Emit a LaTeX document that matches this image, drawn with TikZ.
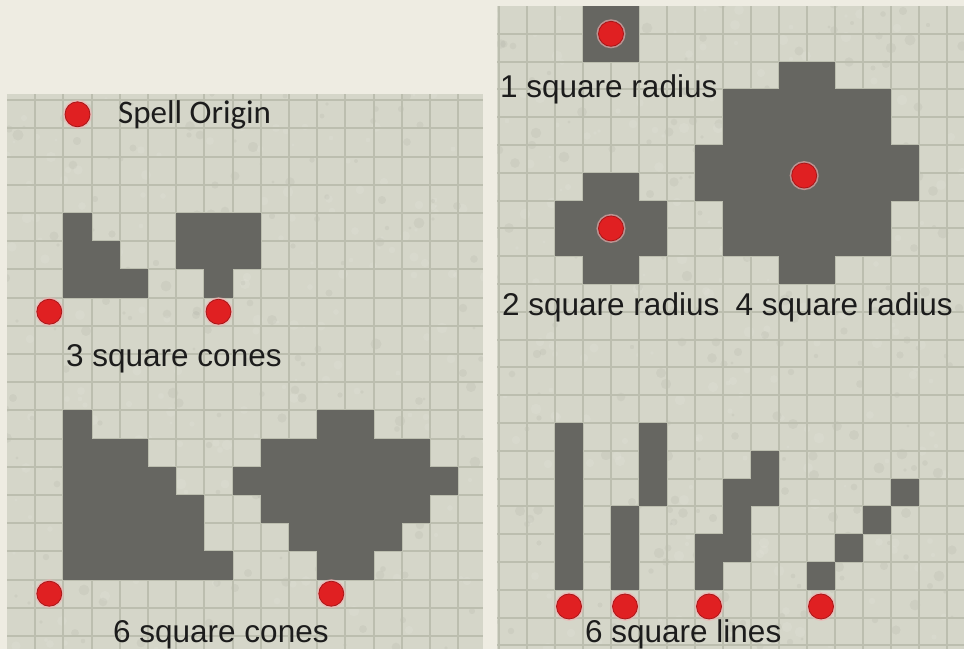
\documentclass[tikz,border=0pt]{standalone}
\usepackage{fontspec}
\setmainfont{Liberation Sans}
\newfontfamily\originfont{Carlito}
\definecolor{bgc}{RGB}{238,236,226}
\definecolor{tile}{RGB}{213,214,201}
\definecolor{gridc}{RGB}{188,190,175}
\definecolor{darkc}{RGB}{102,102,97}
\definecolor{dotc}{RGB}{224,32,34}
\definecolor{dotedge}{RGB}{168,22,24}
\definecolor{txt}{RGB}{28,28,28}
\tikzset{
  dk/.style={fill=darkc},
  gl/.style={draw=gridc, line width=2pt},
  reddot/.style={circle, minimum size=25pt, inner sep=0pt, fill=dotc, draw=dotedge, line width=0.8pt,
    preaction={draw=dotc!35, line width=4pt, draw opacity=0.6}},
  lbl/.style={font=\fontsize{31.5}{36}\selectfont, text=txt, inner sep=0pt},
  olbl/.style={font=\originfont\fontsize{33}{40}\selectfont, text=txt, inner sep=0pt},
}
\begin{document}
\begin{tikzpicture}[x=1pt,y=-1pt]
\fill[bgc] (0,0) rectangle (964,649);
\useasboundingbox (0,0) rectangle (964,649);
% panel tiles
\fill[tile] (7,94) rectangle (483,649);
\fill[tile] (497,6) rectangle (964,649);
% fine mottled texture
\pgfmathsetseed{42}
\begin{scope}
  \clip (7,94) rectangle (483,649) (497,6) rectangle (964,649);
  \foreach \k in {1,...,900} {
    \pgfmathtruncatemacro\xx{random(0,964)}
    \pgfmathtruncatemacro\yy{random(0,649)}
    \pgfmathsetmacro\rr{1.5+4*rnd}
    \pgfmathtruncatemacro\cc{random(0,1)}
    \ifnum\cc=0
      \fill[white,opacity=0.08] (\xx,\yy) circle (\rr pt);
    \else
      \fill[black,opacity=0.035] (\xx,\yy) circle (\rr pt);
    \fi
  }
\end{scope}

% ---------------- left panel ----------------
\begin{scope}[shift={(7pt,-100.2pt)}, x=28.2pt, y=-28.2pt]
  \begin{scope}
    \clip (0,-0.22) rectangle (16.88,19.46);
    \foreach \i in {1,...,16} \draw[gl] (\i,-0.22) -- (\i,19.46);
    \foreach \j in {0,...,19} \draw[gl] (0,\j) -- (16.88,\j);
  \end{scope}
  % 3 square cone (L)
  \fill[dk] (2,4) rectangle (3,5);
  \fill[dk] (2,5) rectangle (4,6);
  \fill[dk] (2,6) rectangle (5,7);
  % 3 square cone (T)
  \fill[dk] (6,4) rectangle (9,6);
  \fill[dk] (7,6) rectangle (8,7);
  % 6 square cone (L)
  \fill[dk] (2,11) rectangle (3,12);
  \fill[dk] (2,12) rectangle (5,13);
  \fill[dk] (2,13) rectangle (6,14);
  \fill[dk] (2,14) rectangle (7,16);
  \fill[dk] (2,16) rectangle (8,17);
  % 6 square cone (diamond)
  \fill[dk] (11,11) rectangle (13,12);
  \fill[dk] (9,12) rectangle (15,13);
  \fill[dk] (8,13) rectangle (16,14);
  \fill[dk] (9,14) rectangle (15,15);
  \fill[dk] (10,15) rectangle (14,16);
  \fill[dk] (11,16) rectangle (13,17);
  % dots
  \node[reddot] (origin) at (2.5,0.5) {};
  \node[reddot] (c3a) at (1.5,7.5) {};
  \node[reddot] (c3b) at (7.5,7.5) {};
  \node[reddot] (c6a) at (1.5,17.5) {};
  \node[reddot] (c6b) at (11.5,17.5) {};
\end{scope}

% ---------------- right panel ----------------
\begin{scope}[shift={(499pt,-6pt)}, x=28pt, y=-27.8pt]
  \begin{scope}
    \clip (-0.07,0) rectangle (16.61,23.13);
    \foreach \i in {0,...,16} \draw[gl] (\i,0) -- (\i,23.13);
    \foreach \j in {1,...,23} \draw[gl] (-0.07,\j) -- (16.61,\j);
  \end{scope}
  % 1 square radius
  \fill[dk] (3,0) rectangle (5,2);
  % 2 square radius
  \fill[dk] (3,6) rectangle (5,7);
  \fill[dk] (2,7) rectangle (6,9);
  \fill[dk] (3,9) rectangle (5,10);
  % 4 square radius
  \fill[dk] (10,2) rectangle (12,3);
  \fill[dk] (8,3) rectangle (14,5);
  \fill[dk] (7,5) rectangle (15,7);
  \fill[dk] (8,7) rectangle (14,9);
  \fill[dk] (10,9) rectangle (12,10);
  % lines
  \fill[dk] (2,15) rectangle (3,21);
  \fill[dk] (5,15) rectangle (6,18);
  \fill[dk] (4,18) rectangle (5,21);
  \fill[dk] (9,16) rectangle (10,18);
  \fill[dk] (8,17) rectangle (9,20);
  \fill[dk] (7,19) rectangle (8,21);
  \fill[dk] (11,20) rectangle (12,21);
  \fill[dk] (12,19) rectangle (13,20);
  \fill[dk] (13,18) rectangle (14,19);
  \fill[dk] (14,17) rectangle (15,18);
  % dots
  \node[reddot] (r1) at (4,1) {};
  \node[reddot] (r2) at (4,8) {};
  \node[reddot] (r4) at (10.9,6.1) {};
  \node[reddot] (l1) at (2.5,21.6) {};
  \node[reddot] (l2) at (4.5,21.6) {};
  \node[reddot] (l3) at (7.5,21.6) {};
  \node[reddot] (l4) at (11.5,21.6) {};
\end{scope}

% ---------------- labels ----------------
\node[olbl, anchor=base west] (tspell) at (118,123) {Spell Origin};
\node[lbl, anchor=base west] (t3cones) at (66,366) {3 square cones};
\node[lbl, anchor=base west] (t6cones) at (113,642) {6 square cones};
\node[lbl, anchor=base west] (t1rad) at (500,97) {1 square radius};
\node[lbl, anchor=base west] (t2rad) at (502,315) {2 square radius};
\node[lbl, anchor=base east] (t4rad) at (953,315) {4 square radius};
\node[lbl, anchor=base west] (tlines) at (585,642) {6 square lines};
\end{tikzpicture}
\end{document}
